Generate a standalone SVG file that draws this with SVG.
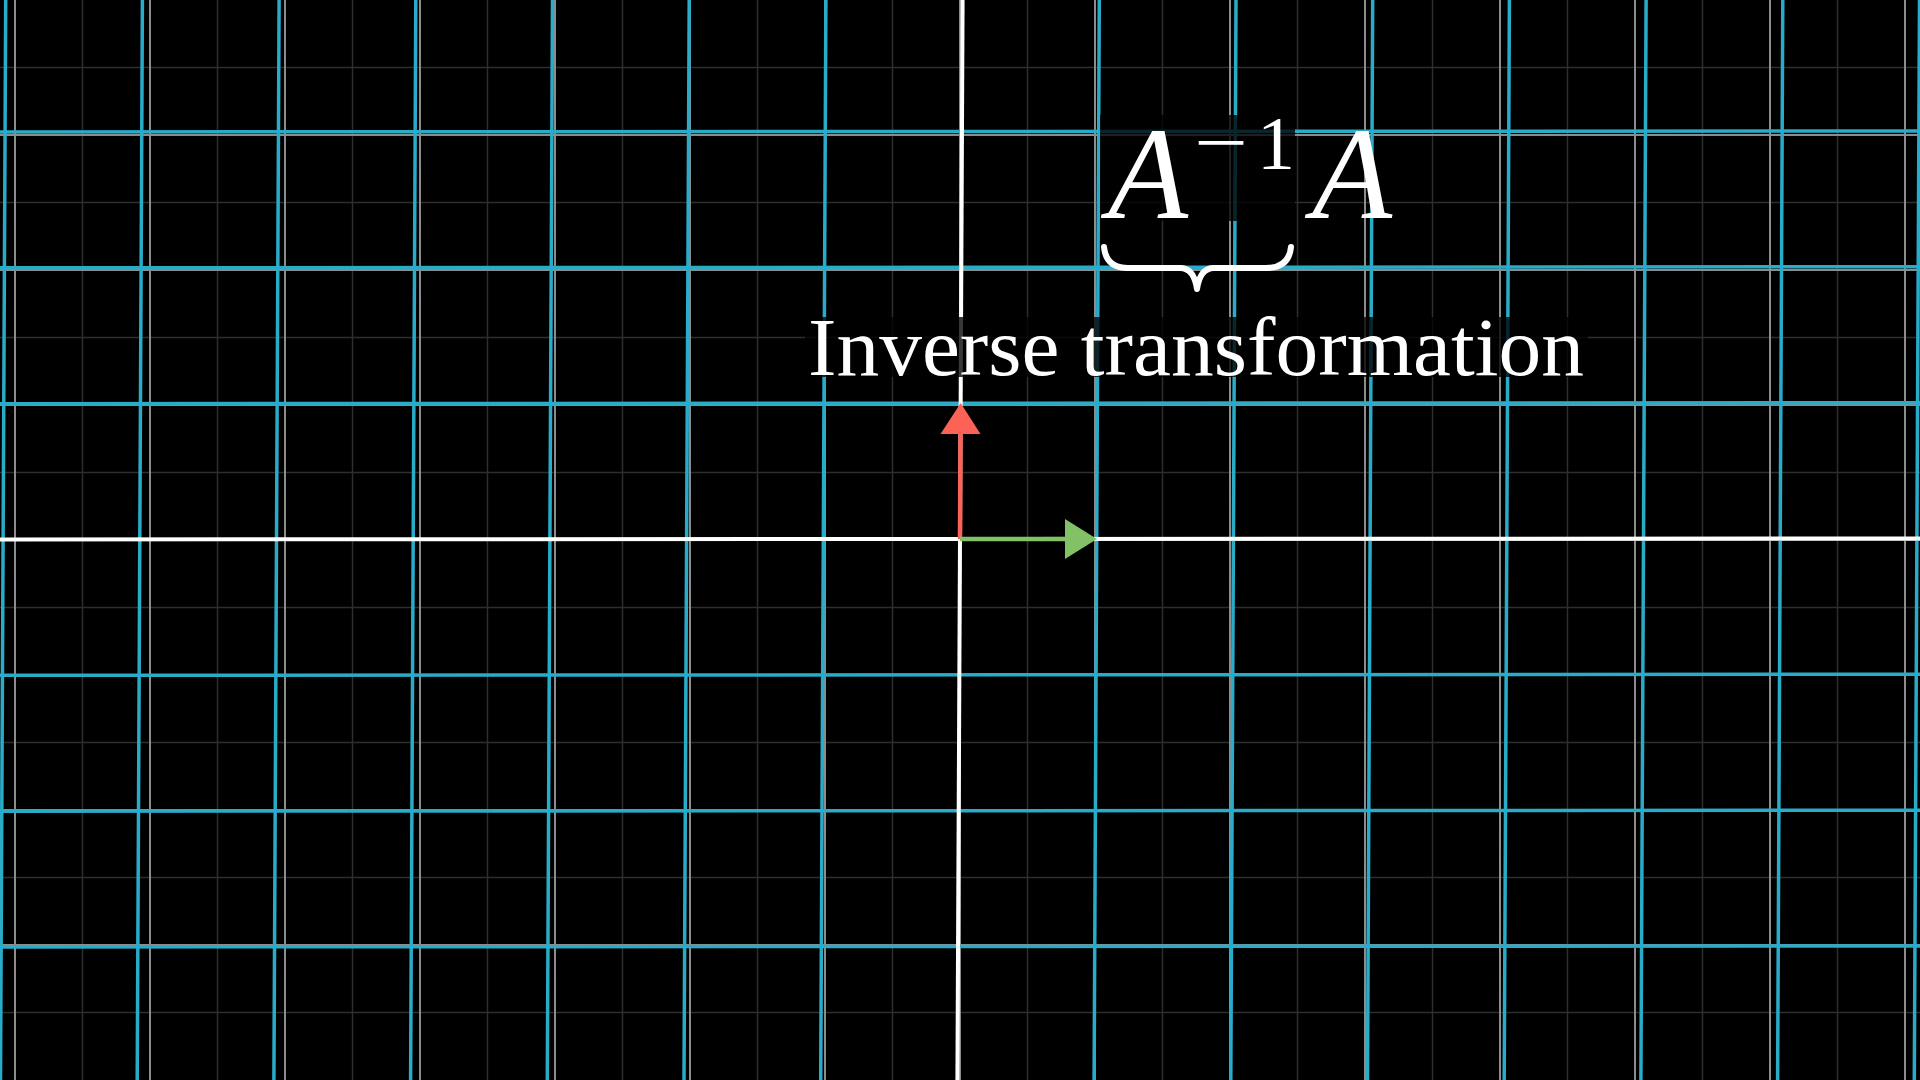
<svg xmlns="http://www.w3.org/2000/svg" width="1920" height="1080" viewBox="0 0 1920 1080">
<style>
.faint{stroke:#2e2e2e;stroke-width:1.5;fill:none}
.major{stroke:#8c8c8c;stroke-width:2;fill:none}
.blue{stroke:#29ABCA;stroke-width:3.5;fill:none}
.axis{stroke:#ffffff;stroke-width:4;fill:none}
.tex{font-family:"Liberation Serif","DejaVu Serif",serif;fill:#ffffff}
.bg{fill:#000000;fill-opacity:0.78}
</style>
<rect x="0" y="0" width="1920" height="1080" fill="#000000"/>
<g id="background-grid">
<path class="faint" d="M82.5,0V1080M217.5,0V1080M352.5,0V1080M487.5,0V1080M622.5,0V1080M757.5,0V1080M892.5,0V1080M1027.5,0V1080M1162.5,0V1080M1297.5,0V1080M1432.5,0V1080M1567.5,0V1080M1702.5,0V1080M1837.5,0V1080M0,67.5H1920M0,202.5H1920M0,337.5H1920M0,472.5H1920M0,607.5H1920M0,742.5H1920M0,877.5H1920M0,1012.5H1920"/>
<path class="major" d="M15,0V1080M150,0V1080M285,0V1080M420,0V1080M555,0V1080M690,0V1080M825,0V1080M960,0V1080M1095,0V1080M1230,0V1080M1365,0V1080M1500,0V1080M1635,0V1080M1770,0V1080M1905,0V1080M0,135H1920M0,270H1920M0,405H1920M0,540H1920M0,675H1920M0,810H1920M0,945H1920"/>
</g>
<g id="transformed-grid">
<path class="blue" d="M5.7,0L0.5,1080M142.4,0L137.2,1080M279.1,0L273.9,1080M415.8,0L410.6,1080M552.5,0L547.3,1080M689.2,0L684,1080M825.9,0L820.7,1080M1099.3,0L1094.1,1080M1236,0L1230.8,1080M1372.7,0L1367.5,1080M1509.4,0L1504.2,1080M1646.1,0L1640.9,1080M1782.8,0L1777.6,1080M1919.5,0L1914.3,1080"/>
<path class="blue" d="M0,132L1920,131M0,267.8L1920,266.8M0,403.7L1920,402.7M0,675.3L1920,674.3M0,811.2L1920,810.2M0,947L1920,946"/>
</g>
<g id="axes">
<path class="axis" d="M962.6,0L957.4,1080"/>
<path class="axis" d="M0,539.5L1920,538.5"/>
</g>
<g id="basis-vectors">
<g id="j-hat">
<line x1="960" y1="539" x2="960.5" y2="432" stroke="#FC6255" stroke-width="4.5"/>
<polygon points="960.7,403 980.5,434 940.5,434" fill="#FC6255"/>
</g>
<g id="i-hat">
<line x1="960" y1="539" x2="1067" y2="539" stroke="#83C167" stroke-width="4.5"/>
<polygon points="1097,539 1065,519 1065,559" fill="#83C167"/>
</g>
</g>
<g id="labels">
<rect class="bg" x="1100" y="115" width="195" height="106"/>
<rect class="bg" x="805" y="317" width="783" height="60"/>
<g id="formula">
<text class="tex" x="1108" y="218" font-size="131" font-style="italic">A</text>
<text class="tex" x="1194" y="168" font-size="76" textLength="54" lengthAdjust="spacingAndGlyphs">−</text>
<text class="tex" x="1257" y="169" font-size="76">1</text>
<text class="tex" x="1312" y="218" font-size="131" font-style="italic">A</text>
<path d="M1104,247 Q1106,268 1128,268 L1180,268 Q1194,268 1197,289 Q1200,268 1214,268 L1266,268 Q1289,268 1291,247" fill="none" stroke="#ffffff" stroke-width="6" stroke-linejoin="round" stroke-linecap="round"/>
</g>
<text class="tex" x="808" y="375" font-size="83" textLength="776" lengthAdjust="spacingAndGlyphs">Inverse transformation</text>
</g>
</svg>
